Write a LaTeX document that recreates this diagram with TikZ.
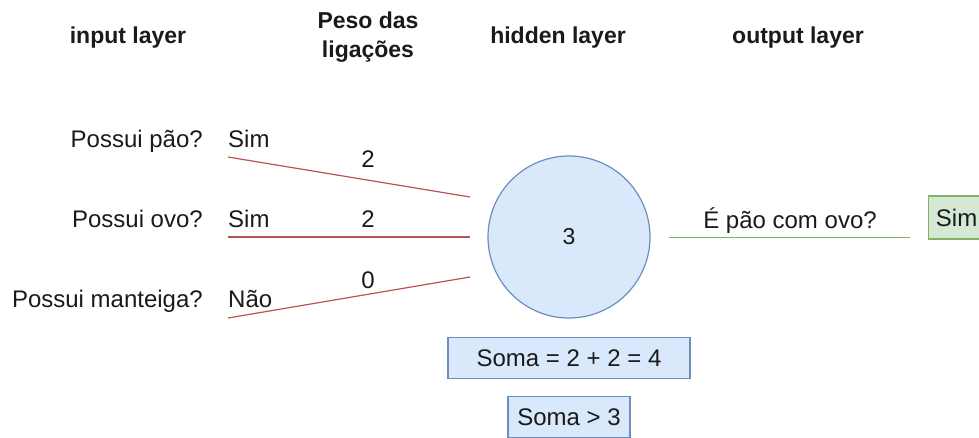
\documentclass[tikz,border=0pt]{standalone}
\usepackage{fontspec}
\setmainfont{Liberation Sans}

\definecolor{wred}{HTML}{B85450}
\definecolor{okgreen}{HTML}{82B366}
\definecolor{okfill}{HTML}{D5E8D4}
\definecolor{nblue}{HTML}{6C8EBF}
\definecolor{nfill}{HTML}{DAE8FC}
\definecolor{ink}{HTML}{1A1A1A}

\tikzset{
  txt/.style={inner sep=0pt, text=ink, font=\fontsize{24}{29}\selectfont},
  layer/.style={inner sep=0pt, text=ink, align=center,
    font=\fontsize{23}{29}\selectfont\bfseries},
  weight/.style={draw=wred, line width=1.2pt},
  outlink/.style={draw=okgreen, line width=1.4pt},
  neuron/.style={circle, draw=nblue, fill=nfill, line width=1.2pt,
    minimum size=162, inner sep=0pt, text=ink, font=\fontsize{23}{29}\selectfont},
  sumbox/.style={draw=nblue, fill=nfill, line width=1.2pt, inner sep=0pt,
    minimum height=41, text=ink, font=\fontsize{24}{29}\selectfont},
}

\begin{document}
\begin{tikzpicture}[x=1pt, y=-1pt]
  \useasboundingbox (0,0) rectangle (979,437);
  \clip (0,0) rectangle (979,437);

  % column titles
  \node[layer] (inTitle) at (128,38) {input layer};
  \node[layer] (wTitle) at (368,37) {Peso das\\ligações};
  \node[layer] (hidTitle) at (558,38) {hidden layer};
  \node[layer] (outTitle) at (798,38) {output layer};

  % inputs and their answers
  \node[txt, anchor=base east] (q1) at (203,147) {Possui pão?};
  \node[txt, anchor=base east] (q2) at (203,227) {Possui ovo?};
  \node[txt, anchor=base east] (q3) at (203,307) {Possui manteiga?};
  \node[txt, anchor=base west] (a1) at (228,147) {Sim};
  \node[txt, anchor=base west] (a2) at (228,227) {Sim};
  \node[txt, anchor=base west] (a3) at (228,307) {Não};

  % the neuron
  \node[neuron] (n) at (569,237) {3};

  % weighted links
  \coordinate (s1) at (228,157);
  \coordinate (s2) at (228,237);
  \coordinate (s3) at (228,318);
  \coordinate (e1) at (470,197);
  \coordinate (e2) at (470,237);
  \coordinate (e3) at (470,277);
  \draw[weight] (s1) -- (e1);
  \draw[weight] (s2) -- (e2);
  \draw[weight] (s3) -- (e3);
  \node[txt, anchor=base] (w1) at (368,167) {2};
  \node[txt, anchor=base] (w2) at (368,227) {2};
  \node[txt, anchor=base] (w3) at (368,288) {0};

  % output
  \coordinate (o1) at (669,237.5);
  \coordinate (o2) at (910,237.5);
  \draw[outlink] (o1) -- (o2);
  \node[txt, anchor=base] (oq) at (790,228) {É pão com ovo?};
  \node[draw=okgreen, fill=okfill, line width=1.2pt, inner sep=0pt,
    minimum width=56, minimum height=43, anchor=west, text=ink,
    font=\fontsize{24}{29}\selectfont] (res) at (928,217.5) {Sim};

  % sum and threshold
  \node[sumbox, minimum width=242] (sum) at (569,358) {Soma = 2 + 2 = 4};
  \node[sumbox, minimum width=122] (thr) at (569,417) {Soma > 3};
\end{tikzpicture}
\end{document}
